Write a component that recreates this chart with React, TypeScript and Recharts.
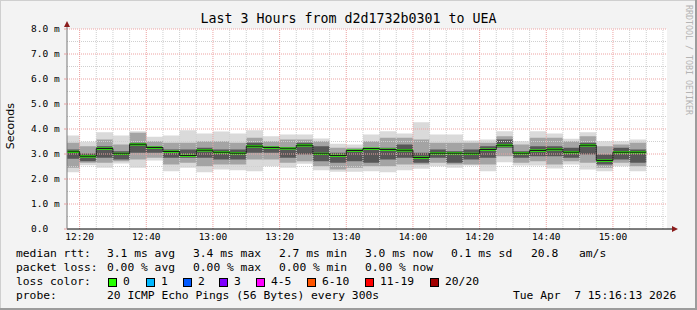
import React from "react";
import { ComposedChart, Area, Line, XAxis, YAxis, CartesianGrid, ReferenceLine, ReferenceDot } from "recharts";

const slots = [
  "12:15", "12:20", "12:25", "12:30", "12:35", "12:40", "12:45", "12:50", "12:55",
  "13:00", "13:05", "13:10", "13:15", "13:20", "13:25", "13:30", "13:35", "13:40",
  "13:45", "13:50", "13:55", "14:00", "14:05", "14:10", "14:15", "14:20", "14:25",
  "14:30", "14:35", "14:40", "14:45", "14:50", "14:55", "15:00", "15:05",
];
const median = [
  3.09, 2.91, 3.22, 3.01, 3.39, 3.26, 3.1, 2.94, 3.15, 3.07, 3.03, 3.31, 3.26, 3.23, 3.35, 3.01, 2.94, 3.14,
  3.22, 3.18, 3.15, 2.86, 3.03, 3.03, 3.01, 3.18, 3.35, 3.03, 3.14, 3.19, 3.07, 3.35, 2.74, 3.07, 3.07,
];
const pingMax = [
  3.74, 3.49, 3.87, 3.74, 3.91, 3.69, 3.74, 3.95, 3.82, 3.9, 3.82, 3.95, 3.71, 3.78, 3.78, 3.62, 3.41, 3.38,
  3.78, 3.91, 3.82, 4.27, 3.78, 3.78, 3.54, 3.58, 3.91, 3.51, 3.91, 3.82, 3.61, 3.87, 3.51, 3.51, 3.58,
];
const pingMin = [
  2.27, 2.55, 2.45, 2.62, 2.45, 2.74, 2.31, 2.45, 2.27, 2.38, 2.35, 2.31, 2.51, 2.45, 2.61, 2.35, 2.29, 2.29,
  2.31, 2.27, 2.35, 2.41, 2.51, 2.45, 2.54, 2.31, 2.67, 2.54, 2.54, 2.42, 2.58, 2.38, 2.31, 2.51, 2.31,
];
const midHi = [
  3.45, 3.31, 3.58, 3.38, 3.85, 3.51, 3.45, 3.45, 3.51, 3.51, 3.45, 3.65, 3.51, 3.58, 3.58, 3.51, 3.25, 3.25,
  3.51, 3.65, 3.65, 3.58, 3.45, 3.45, 3.45, 3.45, 3.71, 3.38, 3.65, 3.65, 3.51, 3.71, 3.31, 3.38, 3.45,
];
const midLo = [
  2.45, 2.65, 2.65, 2.71, 2.78, 2.85, 2.58, 2.65, 2.51, 2.58, 2.58, 2.78, 2.78, 2.65, 2.71, 2.51, 2.38, 2.45,
  2.51, 2.51, 2.58, 2.58, 2.65, 2.58, 2.58, 2.58, 2.91, 2.65, 2.71, 2.58, 2.71, 2.65, 2.45, 2.65, 2.51,
];
const coreHi = [
  3.18, 3.02, 3.31, 3.11, 3.45, 3.31, 3.18, 3.18, 3.25, 3.18, 3.18, 3.45, 3.31, 3.25, 3.45, 3.31, 3.05, 3.18,
  3.25, 3.25, 3.38, 3.05, 3.18, 3.11, 3.18, 3.31, 3.58, 3.11, 3.31, 3.31, 3.25, 3.45, 2.98, 3.25, 3.18,
];
const coreLo = [
  2.81, 2.71, 2.85, 2.78, 3.05, 3.05, 2.85, 2.85, 2.85, 2.78, 2.78, 3.05, 3.05, 2.85, 2.98, 2.71, 2.65, 2.71,
  2.65, 2.78, 2.85, 2.65, 2.85, 2.65, 2.78, 2.85, 3.25, 2.85, 2.91, 2.91, 2.85, 2.98, 2.58, 2.78, 2.65,
];

const xTickLabels = ["12:20", "12:40", "13:00", "13:20", "13:40", "14:00", "14:20", "14:40", "15:00"];
const yTicks = [0, 1, 2, 3, 4, 5, 6, 7, 8];

const rttStats = ["3.1 ms avg", "3.4 ms max", "2.7 ms min", "3.0 ms now", "0.1 ms sd", "20.8", "am/s"];
const lossStats = ["0.00 % avg", "0.00 % max", "0.00 % min", "0.00 % now"];
const lossLabels = ["0", "1", "2", "3", "4-5", "6-10", "11-19", "20/20"];
const lossColors = ["#26ff00", "#00b8ff", "#0059ff", "#7e00ff", "#ff00ff", "#ff5500", "#ff0000", "#a10000"];

const toMin = (s: string) => {
  const [h, m] = s.split(":").map(Number);
  return h * 60 + m;
};
const fmtTime = (v: number) => {
  const h = Math.floor(v / 60);
  const m = Math.round(v % 60);
  return `${String(h).padStart(2, "0")}:${String(m).padStart(2, "0")}`;
};

const START = toMin("12:16") + 13 / 60;
const END = START + 180;
const LINE_HALF = 0.045;

const rows = slots.map((s, i) => ({
  t: toMin(s),
  outer: [pingMin[i], pingMax[i]],
  mid: [midLo[i], midHi[i]],
  core: [coreLo[i], coreHi[i]],
  med: median[i],
  green: [median[i] - LINE_HALF, median[i] + LINE_HALF],
}));
// close the last step
rows.push({ ...rows[rows.length - 1], t: rows[rows.length - 1].t + 5 });

const minorX: number[] = [];
for (let t = Math.ceil(START / 5) * 5; t < END; t += 5) if (t % 20 !== 0) minorX.push(t);
const majorX = xTickLabels.map(toMin);
const minorY = yTicks.slice(0, -1).map((v) => v + 0.5);

const mono = "'DejaVu Sans Mono', monospace";

const YTick = (props: any) => {
  const { x, y, payload } = props;
  const label = payload.value === 0 ? "0.0" : `${payload.value.toFixed(1)} m`;
  return (
    <text x={x - 31} y={y} dy="0.35em" fontSize={9.5} fontFamily={mono} fill="#000" textAnchor="start">
      {label}
    </text>
  );
};

const yArrow = (p: any) => (
  <g>
    <line x1={p.cx} y1={p.cy} x2={p.cx} y2={p.cy - 3} stroke="#777" />
    <path d={`M${p.cx - 3},${p.cy - 2} L${p.cx + 3},${p.cy - 2} L${p.cx},${p.cy - 8} Z`} fill="#8b1c1c" />
  </g>
);
const xArrow = (p: any) => (
  <g>
    <line x1={p.cx} y1={p.cy} x2={p.cx + 5} y2={p.cy} stroke="#000" />
    <path d={`M${p.cx + 5},${p.cy - 3} L${p.cx + 5},${p.cy + 3} L${p.cx + 11},${p.cy} Z`} fill="#8b1c1c" />
  </g>
);

const Txt = ({ x, y, children }: { x: number; y: number; children: React.ReactNode }) => (
  <div style={{ position: "absolute", left: x, top: y - 7, lineHeight: "14px", whiteSpace: "pre", fontSize: 11.3 }}>
    {children}
  </div>
);

const statX = [107, 193, 279, 365, 451, 531, 579];
const boxX = [108, 146, 183, 219, 256, 307, 365, 430];

export default function App() {
  return (
    <div
      style={{
        position: "absolute",
        left: 0,
        top: 0,
        width: 697,
        height: 310,
        background: "#f3f3f3",
        boxShadow: "inset -2px -2px 0 #9c9c9c, inset 1px 1px 0 #cfcfcf",
        fontFamily: mono,
        color: "#000",
        overflow: "hidden",
      }}
    >
      <div style={{ position: "absolute", left: 0, width: 697, top: 11, lineHeight: "16px", fontSize: 13.3, textAlign: "center" }}>
        Last 3 Hours from d2d1732b0301 to UEA
      </div>
      <div
        style={{
          position: "absolute",
          left: 4,
          top: 103,
          fontFamily: "'DejaVu Sans', sans-serif",
          fontSize: 11,
          writingMode: "vertical-rl",
          transform: "rotate(180deg)",
          lineHeight: "13px",
        }}
      >
        Seconds
      </div>
      <div
        style={{
          position: "absolute",
          left: 684,
          top: 5,
          fontSize: 8.3,
          color: "#b4b4b4",
          writingMode: "vertical-rl",
          lineHeight: "9px",
        }}
      >
        RRDTOOL / TOBI OETIKER
      </div>

      <ComposedChart width={697} height={310} data={rows} margin={{ top: 29, right: 30, bottom: 61, left: 7 }}>
        <CartesianGrid horizontal={false} vertical={false} fill="#ffffff" />
        <XAxis
          type="number"
          dataKey="t"
          domain={[START, END]}
          allowDataOverflow
          ticks={majorX}
          tickFormatter={fmtTime}
          height={20}
          tickSize={3}
          tickMargin={1}
          tickLine={false}
          axisLine={{ stroke: "#000" }}
          tick={{ fontSize: 9.5, fontFamily: mono, fill: "#000" }}
        />
        <YAxis
          type="number"
          domain={[0, 8]}
          ticks={yTicks}
          width={60}
          tickSize={3}
          tickMargin={2}
          tickLine={{ stroke: "#e6a0a0" }}
          axisLine={{ stroke: "#777" }}
          tick={<YTick />}
          allowDataOverflow
        />
        <Area type="stepAfter" dataKey="outer" stroke="none" fill="#dadada" fillOpacity={1} isAnimationActive={false} activeDot={false} />
        <Area type="stepAfter" dataKey="mid" stroke="none" fill="#a4a4a4" fillOpacity={1} isAnimationActive={false} activeDot={false} />
        <Area type="stepAfter" dataKey="core" stroke="none" fill="#575757" fillOpacity={1} isAnimationActive={false} activeDot={false} />
        {minorY.map((v) => (
          <ReferenceLine key={`my${v}`} y={v} stroke="#cfcfcf" strokeDasharray="1 1" />
        ))}
        {minorX.map((v) => (
          <ReferenceLine key={`mx${v}`} x={v} stroke="#cfcfcf" strokeDasharray="1 1" />
        ))}
        {yTicks.slice(1).map((v) => (
          <ReferenceLine key={`My${v}`} y={v} stroke="#eda2a2" strokeDasharray="1 1" />
        ))}
        {majorX.map((v) => (
          <ReferenceLine key={`Mx${v}`} x={v} stroke="#eda2a2" strokeDasharray="1 1" />
        ))}
        <Line type="stepAfter" dataKey="med" stroke="#1a1a1a" strokeWidth={1} dot={false} isAnimationActive={false} activeDot={false} />
        <Area type="stepAfter" dataKey="green" stroke="none" fill="#26ff00" fillOpacity={1} isAnimationActive={false} activeDot={false} />
        <ReferenceDot x={START} y={8} ifOverflow="visible" shape={yArrow} />
        <ReferenceDot x={END} y={0} ifOverflow="visible" shape={xArrow} />
      </ComposedChart>

      <Txt x={16} y={254}>median rtt:</Txt>
      {rttStats.map((s, i) => (
        <Txt key={s} x={statX[i]} y={254}>{s}</Txt>
      ))}
      <Txt x={16} y={268}>packet loss:</Txt>
      {lossStats.map((s, i) => (
        <Txt key={s} x={statX[i]} y={268}>{s}</Txt>
      ))}
      <Txt x={16} y={282}>loss color:</Txt>
      {lossLabels.map((s, i) => (
        <React.Fragment key={s}>
          <div
            style={{
              position: "absolute",
              left: boxX[i],
              top: 278,
              width: 7,
              height: 7,
              background: lossColors[i],
              border: "1px solid #000",
            }}
          />
          <Txt x={boxX[i] + 15} y={282}>{s}</Txt>
        </React.Fragment>
      ))}
      <Txt x={16} y={296}>probe:</Txt>
      <Txt x={107} y={296}>20 ICMP Echo Pings (56 Bytes) every 300s</Txt>
      <Txt x={513} y={296}>Tue Apr  7 15:16:13 2026</Txt>
    </div>
  );
}
